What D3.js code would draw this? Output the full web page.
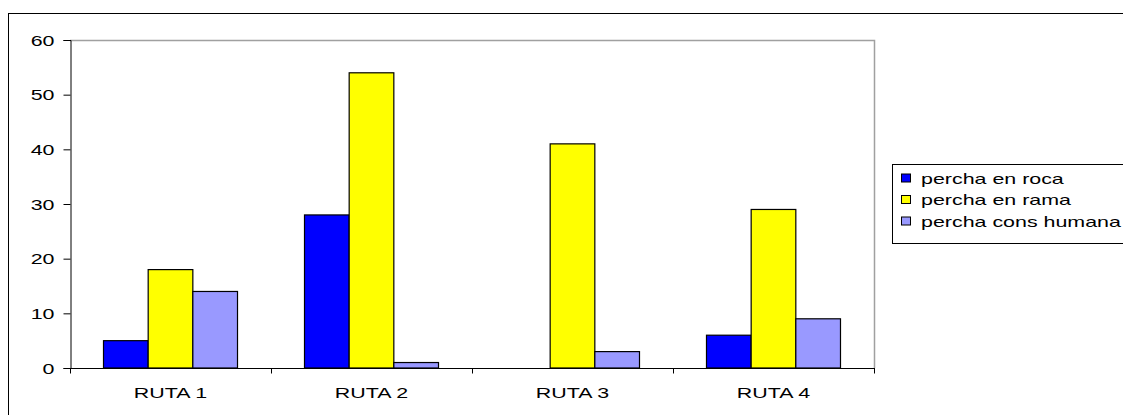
<!DOCTYPE html>
<html>
<head>
<meta charset="utf-8">
<script src="https://cdn.jsdelivr.net/npm/d3@7/dist/d3.min.js"></script>
<style>
  html, body { margin: 0; padding: 0; background: #fff; }
  svg { display: block; }
  text { font-family: "Liberation Sans", Arial, sans-serif; fill: #000; }
</style>
</head>
<body>
<svg id="chart" width="1123" height="415"></svg>
<script>
// Perch counts per route
const categories = ["RUTA 1", "RUTA 2", "RUTA 3", "RUTA 4"];
const seriesNames = ["percha en roca", "percha en rama", "percha cons humana"];
const seriesColors = ["#0000FF", "#FFFF00", "#9999FF"];
const rocaValues = [5, 28, 0, 6];
const ramaValues = [18, 54, 41, 29];
const humanaValues = [14, 1, 3, 9];
const yTicks = [0, 10, 20, 30, 40, 50, 60];

const seriesValues = [rocaValues, ramaValues, humanaValues];

// labels use a wide, horizontally stretched face
const FONT_SIZE = "14px";
const STRETCH = 1.53;

const svg = d3.select("#chart");
const W = 1123, H = 415;

// outer frame (right and bottom edges run off the canvas)
svg.append("rect")
  .attr("x", 8.5).attr("y", 13.5)
  .attr("width", W + 20).attr("height", H + 20)
  .attr("fill", "#fff").attr("stroke", "#000").attr("stroke-width", 1);

const plot = { left: 70, top: 40, right: 874, bottom: 368 };

const x0 = d3.scaleBand()
  .domain(categories)
  .range([plot.left, plot.right])
  .paddingInner(0.3333)
  .paddingOuter(0.1667);

const x1 = d3.scaleBand()
  .domain(seriesNames)
  .range([0, x0.bandwidth()]);

const y = d3.scaleLinear()
  .domain([0, 60])
  .range([plot.bottom, plot.top]);

// plot area frame: grey top and right edges
svg.append("path")
  .attr("d", `M${plot.left},${plot.top + 0.5}H${plot.right + 0.5}V${plot.bottom}`)
  .attr("fill", "none").attr("stroke", "#a0a0a0").attr("stroke-width", 1.5);

// bars
const groups = svg.append("g").selectAll("g")
  .data(categories)
  .join("g")
  .attr("transform", d => `translate(${x0(d)},0)`);

groups.selectAll("rect")
  .data((c, i) => seriesNames.map((s, k) => ({ s, k, v: seriesValues[k][i] })))
  .join("rect")
  .filter(d => d.v > 0)
  .attr("x", d => x1(d.s))
  .attr("y", d => y(d.v))
  .attr("width", x1.bandwidth())
  .attr("height", d => y(0) - y(d.v))
  .attr("fill", d => seriesColors[d.k])
  .attr("stroke", "#000")
  .attr("stroke-width", 1.2);

// y axis
const yAxis = d3.axisLeft(y).tickValues(yTicks).tickSize(7).tickPadding(9);
const gy = svg.append("g")
  .attr("transform", `translate(${plot.left + 0.5},0)`)
  .call(yAxis);
gy.select(".domain").attr("stroke", "#000");
gy.selectAll(".tick line").attr("stroke", "#000");
gy.selectAll(".tick text")
  .style("font-size", FONT_SIZE)
  .attr("font-family", null)
  .attr("dy", "0.36em")
  .each(function () {
    const t = d3.select(this);
    const tx = +t.attr("x");
    t.attr("x", 0).attr("transform", `translate(${tx},0) scale(${STRETCH},1)`);
  });

// x axis with ticks between categories
const xAxisG = svg.append("g")
  .attr("transform", `translate(0,${plot.bottom + 0.5})`);
xAxisG.append("line")
  .attr("x1", plot.left).attr("x2", plot.right + 1)
  .attr("stroke", "#000");
const boundaries = d3.range(categories.length + 1)
  .map(i => plot.left + i * (plot.right - plot.left) / categories.length);
xAxisG.selectAll("line.tick")
  .data(boundaries)
  .join("line")
  .attr("class", "tick")
  .attr("x1", d => Math.round(d) + 0.5).attr("x2", d => Math.round(d) + 0.5)
  .attr("y1", 0).attr("y2", 5)
  .attr("stroke", "#000");
xAxisG.selectAll("text")
  .data(categories)
  .join("text")
  .attr("transform", d => `translate(${x0(d) + x0.bandwidth() / 2},29.5) scale(${STRETCH},1)`)
  .attr("text-anchor", "middle")
  .style("font-size", FONT_SIZE)
  .text(d => d);

// legend (its right edge runs past the canvas)
const legend = svg.append("g");
legend.append("rect")
  .attr("x", 892.5).attr("y", 164.5)
  .attr("width", 260).attr("height", 79)
  .attr("fill", "#fff").attr("stroke", "#000").attr("stroke-width", 1);
const items = legend.selectAll("g.item")
  .data(seriesNames)
  .join("g")
  .attr("class", "item")
  .attr("transform", (d, i) => `translate(901,${178.5 + i * 21.5})`);
items.append("rect")
  .attr("x", 0.5).attr("y", -4.5)
  .attr("width", 9).attr("height", 8)
  .attr("fill", (d, i) => seriesColors[i])
  .attr("stroke", "#000");
items.append("text")
  .attr("transform", `translate(20,0) scale(${STRETCH},1)`)
  .attr("dy", "0.36em")
  .style("font-size", FONT_SIZE)
  .text(d => d);
</script>
</body>
</html>
